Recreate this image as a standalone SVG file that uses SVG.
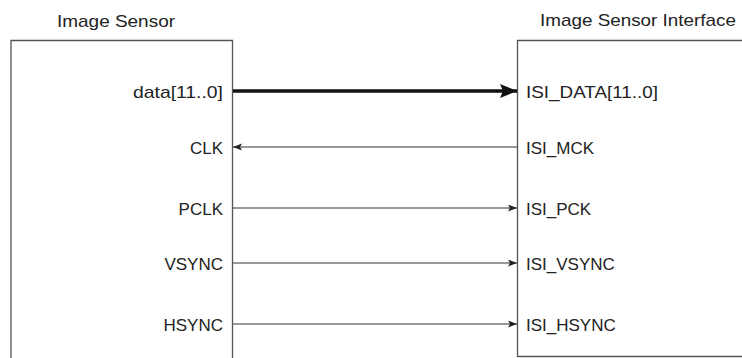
<svg xmlns="http://www.w3.org/2000/svg" width="742" height="358" viewBox="0 0 742 358">
<style>
text{font-family:"Liberation Sans",Arial,Helvetica,sans-serif;font-size:17px;fill:#222}
.box{fill:none;stroke:#555;stroke-width:1.3}
.sig{stroke:#333;stroke-width:1.2;fill:none}
.bus{stroke:#111;stroke-width:3.6;fill:none}
.l{text-anchor:end}
</style>
<defs>
<marker id="ah" markerUnits="userSpaceOnUse" markerWidth="10" markerHeight="8" refX="9" refY="3.5" orient="auto">
<path d="M0,0 L9,3.5 L0,7 L2,3.5 Z" fill="#222"/>
</marker>
<marker id="ahb" markerUnits="userSpaceOnUse" markerWidth="18" markerHeight="14" refX="17" refY="7" orient="auto">
<path d="M0,0 L17,7 L0,14 L3,7 Z" fill="#111"/>
</marker>
</defs>
<g id="image-sensor">
<text x="116" y="27" text-anchor="middle" textLength="118" lengthAdjust="spacingAndGlyphs">Image Sensor</text>
<path class="box" d="M11,360 V40.5 H232.5 V360"/>
<text class="l" x="223" y="98" textLength="90" lengthAdjust="spacingAndGlyphs">data[11..0]</text>
<text class="l" x="223" y="154">CLK</text>
<text class="l" x="223" y="215">PCLK</text>
<text class="l" x="223" y="270">VSYNC</text>
<text class="l" x="223" y="331">HSYNC</text>
</g>
<g id="isi">
<text x="540" y="26" textLength="196" lengthAdjust="spacingAndGlyphs">Image Sensor Interface</text>
<path class="box" d="M745,40.5 H517.5 V356.5 H745"/>
<text x="526" y="98" textLength="132" lengthAdjust="spacingAndGlyphs">ISI_DATA[11..0]</text>
<text x="526" y="154">ISI_MCK</text>
<text x="526" y="215">ISI_PCK</text>
<text x="526" y="270">ISI_VSYNC</text>
<text x="526" y="331">ISI_HSYNC</text>
</g>
<g id="connectors">
<line class="bus" x1="233" y1="91" x2="517" y2="91" marker-end="url(#ahb)"/>
<line class="sig" x1="517" y1="147" x2="233" y2="147" marker-end="url(#ah)"/>
<line class="sig" x1="233" y1="208" x2="517" y2="208" marker-end="url(#ah)"/>
<line class="sig" x1="233" y1="263" x2="517" y2="263" marker-end="url(#ah)"/>
<line class="sig" x1="233" y1="324" x2="517" y2="324" marker-end="url(#ah)"/>
</g>
</svg>
